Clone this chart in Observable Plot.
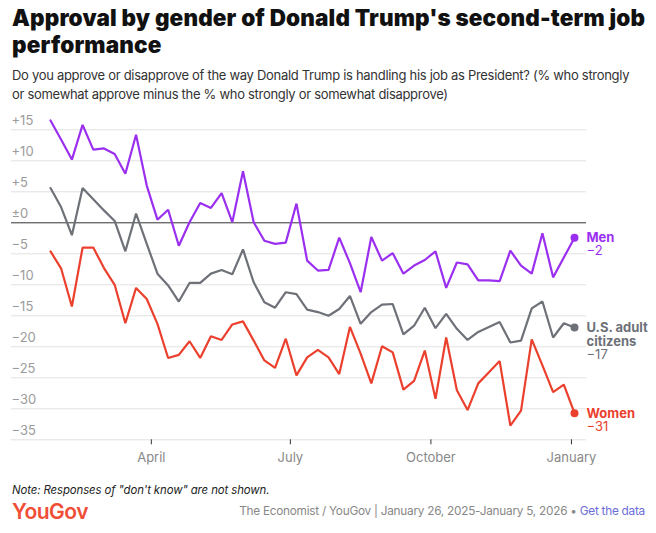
<!DOCTYPE html>
<html>
<head>
<meta charset="utf-8">
<script src="https://cdn.jsdelivr.net/npm/d3@7"></script>
<script src="https://cdn.jsdelivr.net/npm/@observablehq/plot@0.6"></script>
<style>
  body { margin: 0; background: #fff; font-family: Inter, "Noto Sans", sans-serif; width: 656px; height: 533px; position: relative; overflow: hidden; }
  #title { position: absolute; left: 12px; top: 4px; width: 644px; font-size: 22.5px; font-weight: 900; line-height: 27px; color: #111; letter-spacing: 0.15px; }
  #subtitle { position: absolute; left: 12px; top: 66px; width: 628px; font-size: 13px; line-height: 19px; color: #333; letter-spacing: -0.3px; }
  #chart { position: absolute; left: 0; top: 108px; }
  #note { position: absolute; left: 12px; top: 483px; font-size: 11.4px; font-style: italic; color: #222; letter-spacing: -0.1px; }
  #logo { position: absolute; left: 12px; top: 499px; font-size: 21px; font-weight: 600; color: #f04e37; letter-spacing: -0.5px; }
  #source { position: absolute; right: 11px; top: 504px; font-size: 11.8px; color: #888; letter-spacing: -0.25px; }
  #source span { color: #6c6cd8; }
</style>
</head>
<body>
<div id="title">Approval by gender of Donald Trump's second-term job performance</div>
<div id="subtitle">Do you approve or disapprove of the way Donald Trump is handling his job as President? (% who strongly or somewhat approve minus the % who strongly or somewhat disapprove)</div>
<div id="chart"></div>
<div id="note">Note: Responses of "don't know" are not shown.</div>
<div id="logo">YouGov</div>
<div id="source">The Economist / YouGov | January 26, 2025-January 5, 2026 • <span>Get the data</span></div>
<script>
const dates = ["2025-01-25","2025-02-01","2025-02-08","2025-02-15","2025-02-22","2025-03-01","2025-03-08","2025-03-15","2025-03-22","2025-03-29",
  "2025-04-05","2025-04-12","2025-04-19","2025-04-26","2025-05-03","2025-05-10","2025-05-17","2025-05-24","2025-05-31","2025-06-07",
  "2025-06-14","2025-06-21","2025-06-28","2025-07-05","2025-07-12","2025-07-19","2025-07-26","2025-08-02","2025-08-09","2025-08-16",
  "2025-08-23","2025-08-30","2025-09-06","2025-09-13","2025-09-20","2025-09-27","2025-10-04","2025-10-11","2025-10-18","2025-10-25",
  "2025-11-01","2025-11-08","2025-11-15","2025-11-22","2025-11-29","2025-12-06","2025-12-13","2025-12-20","2025-12-27","2026-01-03"];
const men = [16.5,13.4,10.2,15.8,11.8,12.0,11.1,7.9,14.2,6.0,
  0.5,2.1,-3.7,0.1,3.2,2.4,4.8,0.1,8.3,0.1,
  -2.9,-3.4,-3.2,3.1,-6.1,-7.7,-7.6,-2.4,-6.5,-11.2,
  -2.3,-6.1,-4.9,-8.2,-6.9,-6.0,-4.6,-10.5,-6.4,-6.7,
  -9.3,-9.3,-9.4,-4.5,-6.9,-8.2,-1.7,-8.8,-5.6,-2.4];
const adults = [5.6,2.5,-2.0,5.6,3.8,2.0,0.3,-4.6,1.5,-3.4,
  -8.2,-10.1,-12.7,-9.7,-9.7,-8.2,-7.6,-8.3,-4.3,-9.6,
  -12.8,-13.7,-11.2,-11.5,-14.0,-14.4,-15.0,-13.9,-11.8,-16.3,
  -14.4,-13.2,-13.1,-18.0,-16.6,-13.7,-17.0,-14.7,-17.1,-18.9,
  -17.6,-16.8,-16.0,-19.3,-19.0,-13.8,-12.7,-18.5,-16.2,-16.9];
const women = [-4.6,-7.4,-13.5,-4.0,-4.0,-7.3,-10.0,-16.2,-10.5,-12.3,
  -16.3,-21.8,-21.3,-19.1,-21.8,-18.3,-18.9,-16.4,-15.9,-19.0,
  -22.2,-23.4,-18.7,-24.6,-21.7,-20.5,-21.7,-24.4,-16.8,-21.1,
  -25.9,-19.9,-20.9,-26.9,-25.5,-20.6,-28.4,-18.5,-27.0,-30.2,
  -25.9,-24.1,-22.3,-32.7,-30.3,-18.8,-23.0,-27.3,-26.1,-30.7];
const seriesNames = ["Men", "U.S. adult\ncitizens", "Women"];
const seriesEndLabels = ["−2", "−17", "−31"];
const seriesColors = ["#9b2ff0", "#6e7178", "#eb402d"];
const yTicks = [15,10,5,0,-5,-10,-15,-20,-25,-30,-35];
const yTickLabels = ["+15","+10","+5","±0","−5","−10","−15","−20","−25","−30","−35"];
const monthTicks = ["2025-04-01","2025-07-01","2025-10-01","2026-01-01"];
const monthLabels = ["April","July","October","January"];

const seriesValues = [men, adults, women];
const table = [];
seriesNames.forEach((name, s) => {
  dates.forEach((d, i) => table.push({date: new Date(d), value: seriesValues[s][i], series: name}));
});
const lasts = seriesNames.map((name, s) => ({
  date: new Date(dates[dates.length - 1]),
  value: seriesValues[s][dates.length - 1],
  series: name,
  end: seriesEndLabels[s]
}));
const monthDates = monthTicks.map(d => new Date(d));

const labelMarks = [];
lasts.forEach((d, s) => {
  const nLines = d.series.split("\n").length;
  labelMarks.push(Plot.text([d], {x: "date", y: "value", text: "series", fill: seriesColors[s], dx: 12, dy: -5.5,
    textAnchor: "start", lineAnchor: "top", fontWeight: 700, fontSize: 13, lineHeight: 14 / 13}));
  labelMarks.push(Plot.text([d], {x: "date", y: "value", text: "end", fill: seriesColors[s], dx: 12, dy: -5.5 + 14 * nLines,
    textAnchor: "start", lineAnchor: "top", fontSize: 13}));
});

const chart = Plot.plot({
  width: 656,
  height: 360,
  marginLeft: 11,
  marginRight: 70,
  marginTop: 21.3,
  marginBottom: 28.7,
  style: {fontFamily: "Inter, 'Noto Sans', sans-serif", background: "transparent", overflow: "visible"},
  x: {type: "utc", domain: [new Date("2024-12-30T11:15:00Z"), new Date("2026-01-10T20:24:00Z")]},
  y: {domain: [-35, 15]},
  color: {domain: seriesNames, range: seriesColors},
  marks: [
    Plot.ruleY(yTicks.filter(d => d !== 0), {y: d => d, stroke: "#e2e2e2", strokeWidth: 1}),
    Plot.ruleY([0], {stroke: "#333", strokeWidth: 1}),
    Plot.text(yTicks, {y: d => d, text: (d, i) => yTickLabels[i], frameAnchor: "left", textAnchor: "start", dy: -9, fill: "#9b9b9b", fontSize: 13}),
    Plot.axisX({ticks: monthDates, tickFormat: (d, i) => monthLabels[i], tickSize: 5, tickPadding: 8, stroke: "#333", fill: "#888", fontSize: 13, label: null}),
    Plot.axisY({ticks: [], label: null}),
    Plot.line(table, {x: "date", y: "value", stroke: "series", strokeWidth: 2.2, strokeLinejoin: "miter", curve: "linear"}),
    Plot.dot(lasts, {x: "date", y: "value", fill: "series", r: 4, stroke: "none"}),
    ...labelMarks
  ]
});
document.getElementById("chart").appendChild(chart);
</script>
</body>
</html>
